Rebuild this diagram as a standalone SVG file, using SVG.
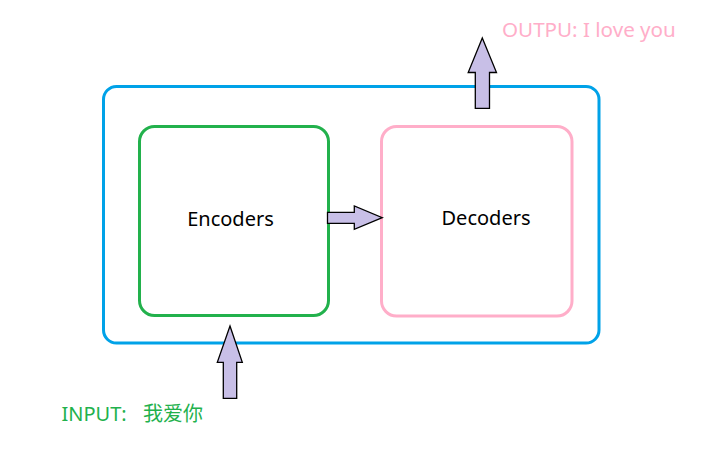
<svg xmlns="http://www.w3.org/2000/svg" width="706" height="451" viewBox="0 0 706 451">
<defs>
<style>
.box{fill:none;stroke-width:3}
.arrow{fill:#c8bfe7;stroke:#000;stroke-width:1.3;stroke-linejoin:miter}
.lbl{font-family:"Noto Sans","Noto Sans CJK SC",sans-serif;font-size:20px}
</style>
</defs>
<rect width="706" height="451" fill="#fff"/>
<g id="container">
<rect class="box" x="103.5" y="86.5" width="495.5" height="256.5" rx="13" stroke="#00a2e8"/>
</g>
<g id="encoders">
<rect class="box" x="139.5" y="126.5" width="189" height="189" rx="15" stroke="#22b14c"/>
<text class="lbl" x="230.5" y="226" text-anchor="middle" fill="#000">Encoders</text>
</g>
<g id="decoders">
<rect class="box" x="381.5" y="126.5" width="190.5" height="189.5" rx="15" stroke="#ffaec9"/>
<text class="lbl" x="486" y="224.5" text-anchor="middle" fill="#000">Decoders</text>
</g>
<g id="output">
<text class="lbl" x="502" y="37" fill="#ffaec9" style="font-size:20.6px">OUTPU: I love you</text>
</g>
<g id="input">
<text class="lbl" x="61.5" y="420.5" fill="#22b14c">INPUT:<tspan x="143">我爱你</tspan></text>
</g>
<g id="connectors">
<polygon class="arrow" points="482.3,38 496.5,72.5 489.5,72.5 489.5,108.3 475.3,108.3 475.3,72.5 468.2,72.5"/>
<polygon class="arrow" points="230,326 242.3,362.3 236.7,362.3 236.7,398.3 223.3,398.3 223.3,362.3 217.3,362.3"/>
<polygon class="arrow" points="382.3,217.7 354.3,229.3 354.3,223.3 327.5,223.3 327.5,212.3 354.3,212.3 354.3,206"/>
</g>
</svg>
